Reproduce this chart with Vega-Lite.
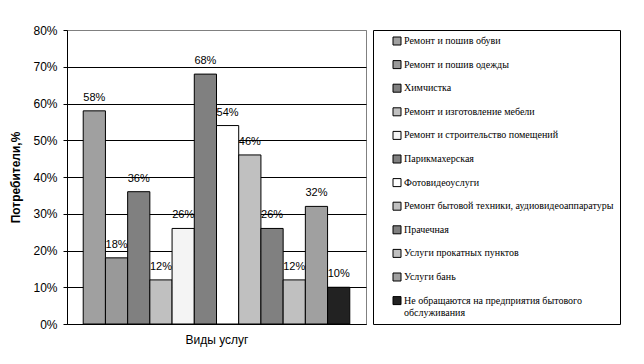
{
  "$schema": "https://vega.github.io/schema/vega-lite/v6.json",
  "width": 299,
  "height": 294,
  "autosize": {"type": "none"},
  "padding": {"left": 67, "top": 30, "right": 278, "bottom": 40},
  "background": "white",
  "config": {"view": {"stroke": "#808080", "strokeWidth": 1}},
  "data": {
    "values": [
      {"service": "Ремонт и пошив обуви", "value": 0.58},
      {"service": "Ремонт и пошив одежды", "value": 0.18},
      {"service": "Химчистка", "value": 0.36},
      {"service": "Ремонт и изготовление мебели", "value": 0.12},
      {"service": "Ремонт и строительство помещений", "value": 0.26},
      {"service": "Парикмахерская", "value": 0.68},
      {"service": "Фотовидеоуслуги", "value": 0.54},
      {"service": "Ремонт бытовой техники, аудиовидеоаппаратуры", "value": 0.46},
      {"service": "Прачечная", "value": 0.26},
      {"service": "Услуги прокатных пунктов", "value": 0.12},
      {"service": "Услуги бань", "value": 0.32},
      {"service": "Не обращаются на предприятия бытового обслуживания", "value": 0.10}
    ]
  },
  "encoding": {
    "x": {
      "field": "service",
      "type": "nominal",
      "sort": null,
      "scale": {"paddingInner": 0, "paddingOuter": 0.73},
      "axis": {
        "labels": false,
        "ticks": false,
        "domainColor": "black",
        "title": "Виды услуг",
        "titleFont": "Liberation Sans",
        "titleFontSize": 12,
        "titleFontWeight": "normal",
        "titleColor": "black",
        "titlePadding": 10
      }
    },
    "y": {
      "field": "value",
      "type": "quantitative",
      "scale": {"domain": [0, 0.8], "nice": false},
      "axis": {
        "values": [0, 0.1, 0.2, 0.3, 0.4, 0.5, 0.6, 0.7, 0.8],
        "format": ".0%",
        "domainColor": "black",
        "tickColor": "black",
        "tickSize": 4,
        "labelFont": "Liberation Sans",
        "labelFontSize": 12,
        "labelColor": "black",
        "labelPadding": 6,
        "gridColor": {"condition": {"test": "datum.value >= 0.8", "value": "#808080"}, "value": "black"},
        "gridOpacity": 1,
        "title": "Потребители,%",
        "titleFont": "Liberation Sans",
        "titleFontSize": 12,
        "titleFontWeight": "bold",
        "titleColor": "black",
        "titlePadding": 10
      }
    }
  },
  "layer": [
    {
      "mark": {"type": "bar", "stroke": "black", "strokeWidth": 1},
      "encoding": {
        "color": {
          "field": "service",
          "type": "nominal",
          "sort": null,
          "scale": {
            "domain": [
              "Ремонт и пошив обуви",
              "Ремонт и пошив одежды",
              "Химчистка",
              "Ремонт и изготовление мебели",
              "Ремонт и строительство помещений",
              "Парикмахерская",
              "Фотовидеоуслуги",
              "Ремонт бытовой техники, аудиовидеоаппаратуры",
              "Прачечная",
              "Услуги прокатных пунктов",
              "Услуги бань",
              "Не обращаются на предприятия бытового обслуживания"
            ],
            "range": ["#a0a0a0", "#999999", "#808080", "#c0c0c0", "#f4f4f4", "#808080", "#ffffff", "#c0c0c0", "#808080", "#c0c0c0", "#a0a0a0", "#222222"]
          },
          "legend": {
            "orient": "none",
            "legendX": 306,
            "legendY": 0,
            "title": null,
            "strokeColor": "black",
            "fillColor": "white",
            "padding": 6,
            "symbolType": "square",
            "symbolSize": 64,
            "symbolStrokeColor": "black",
            "symbolStrokeWidth": 1,
            "symbolOffset": 13,
            "labelFont": "Liberation Serif",
            "labelFontSize": 10,
            "labelColor": "black",
            "labelLimit": 400,
            "labelOffset": 2,
            "rowPadding": 11.6,
            "labelExpr": "datum.label == 'Не обращаются на предприятия бытового обслуживания' ? ['Не обращаются на предприятия бытового', 'обслуживания'] : datum.label"
          }
        }
      }
    },
    {
      "mark": {"type": "text", "dy": -10, "baseline": "alphabetic", "font": "Liberation Sans", "fontSize": 11, "color": "black"},
      "encoding": {
        "text": {"field": "value", "type": "quantitative", "format": ".0%"}
      }
    }
  ]
}
